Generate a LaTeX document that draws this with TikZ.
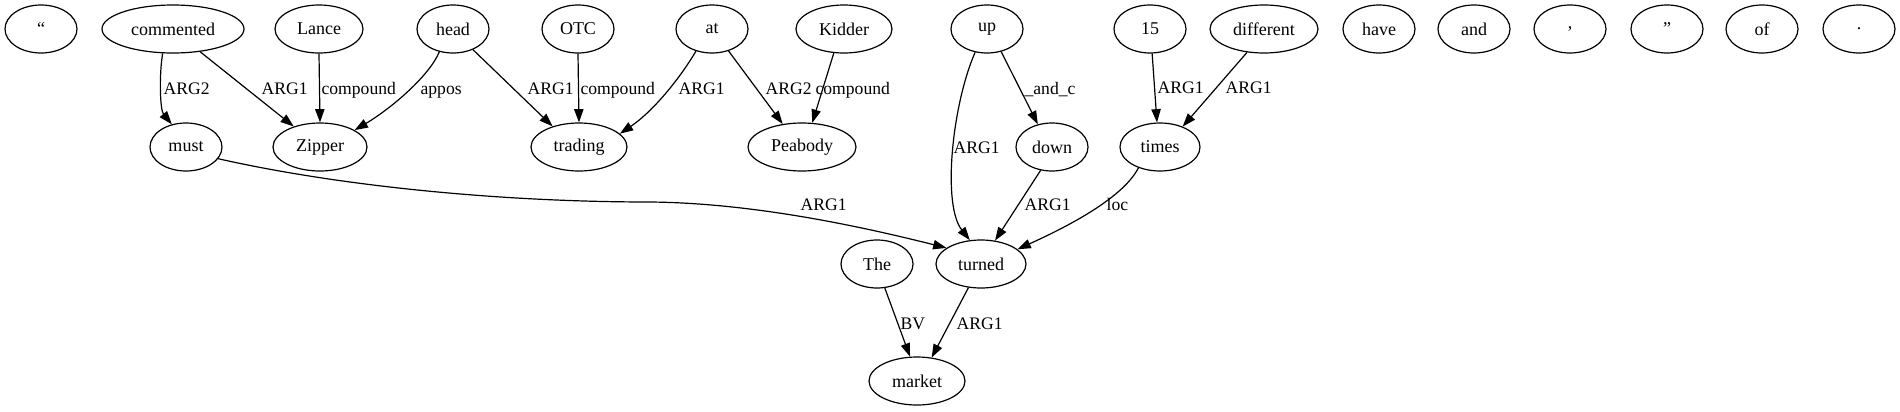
\documentclass[tikz,border=0pt]{standalone}
\usepackage{fontspec}
\setmainfont{Liberation Serif}
\usetikzlibrary{shapes.geometric,arrows.meta}
\begin{document}
\begin{tikzpicture}[x=0.75pt,y=-0.75pt,
  nd/.style={draw, ellipse, line width=0.9pt, inner sep=0pt, minimum height=36pt, minimum width=54pt, font=\fontsize{13.5}{16}\selectfont},
  edge/.style={draw, line width=0.9pt, -{Triangle[length=10pt,width=7pt]}},
  lbl/.style={anchor=base west, inner sep=0pt, font=\fontsize{13.2}{16}\selectfont}
]
\useasboundingbox (0,0) rectangle (1900,411);
% row 1
\node[nd] (q1) at (41,29) {“};
\node[nd, minimum width=106.5pt] (commented) at (173,29) {commented};
\node[nd, minimum width=66pt] (lance) at (319,29) {Lance};
\node[nd] (head) at (453,29) {head};
\node[nd] (otc) at (578,29) {OTC};
\node[nd] (at) at (712,29) {at};
\node[nd, minimum width=72pt] (kidder) at (844,29) {Kidder};
\node[nd] (up) at (987,29) {up};
\node[nd] (n15) at (1150,29) {15};
\node[nd, minimum width=81pt] (different) at (1264,29) {different};
\node[nd] (have) at (1379,29) {have};
\node[nd] (and) at (1474,29) {and};
\node[nd] (comma) at (1570,29) {,};
\node[nd] (q2) at (1667,29) {”};
\node[nd] (of) at (1762,29) {of};
\node[nd] (period) at (1859,29) {.};
% row 2
\node[nd] (must) at (186,147) {must};
\node[nd, minimum width=70.5pt] (zipper) at (320,147) {Zipper};
\node[nd, minimum width=72pt] (trading) at (579,147) {trading};
\node[nd, minimum width=81pt] (peabody) at (802,147) {Peabody};
\node[nd] (down) at (1052,147) {down};
\node[nd, minimum width=60pt] (times) at (1160,147) {times};
% row 3
\node[nd] (the) at (877,264) {The};
\node[nd, minimum width=67.5pt] (turned) at (981,264) {turned};
% row 4
\node[nd, minimum width=72pt] (market) at (917,381) {market};
% edges
\draw[edge] (commented.247) .. controls (159,75) and (160,110) .. (must.122) node[lbl] at (163,94) {ARG2};
\draw[edge] (commented.320) -- (zipper.142) node[lbl] at (261,94) {ARG1};
\draw[edge] (lance.south) -- (zipper.north) node[lbl] at (321,94) {compound};
\draw[edge] (head.239) .. controls (430,75) and (392,108) .. (zipper.26) node[lbl] at (420,94) {appos};
\draw[edge] (head.314) -- (trading.142) node[lbl] at (527,94) {ARG1};
\draw[edge] (otc.south) -- (trading.north) node[lbl] at (580,94) {compound};
\draw[edge] (at.234) .. controls (682,75) and (655,110) .. (trading.18) node[lbl] at (678,94) {ARG1};
\draw[edge] (at.307) -- (peabody.130) node[lbl] at (765,94) {ARG2};
\draw[edge] (kidder.247) -- (peabody.67) node[lbl] at (815,94) {compound};
\draw[edge] (up.302) -- (down.122) node[lbl] at (1024,94) {\_and\_c};
\draw[edge] (up.243) .. controls (952,105) and (942,205) .. (turned.115) node[lbl] at (953,153) {ARG1};
\draw[edge] (n15.275) -- (times.97) node[lbl] at (1157,93) {ARG1};
\draw[edge] (different.234) -- (times.42) node[lbl] at (1225,93) {ARG1};
\draw[edge] (must.340) .. controls (339,186) and (500,202) .. (650,202) .. controls (760,203) and (875,230) .. (turned.155) node[lbl] at (800,210) {ARG1};
\draw[edge] (down.244) -- (turned.59) node[lbl] at (1024,210) {ARG1};
\draw[edge] (times.224) .. controls (1122,200) and (1060,230) .. (turned.22) node[lbl] at (1106,210) {loc};
\draw[edge] (the.288) -- (market.106) node[lbl] at (900,329) {BV};
\draw[edge] (turned.242) -- (market.58) node[lbl] at (956,329) {ARG1};
\end{tikzpicture}
\end{document}
